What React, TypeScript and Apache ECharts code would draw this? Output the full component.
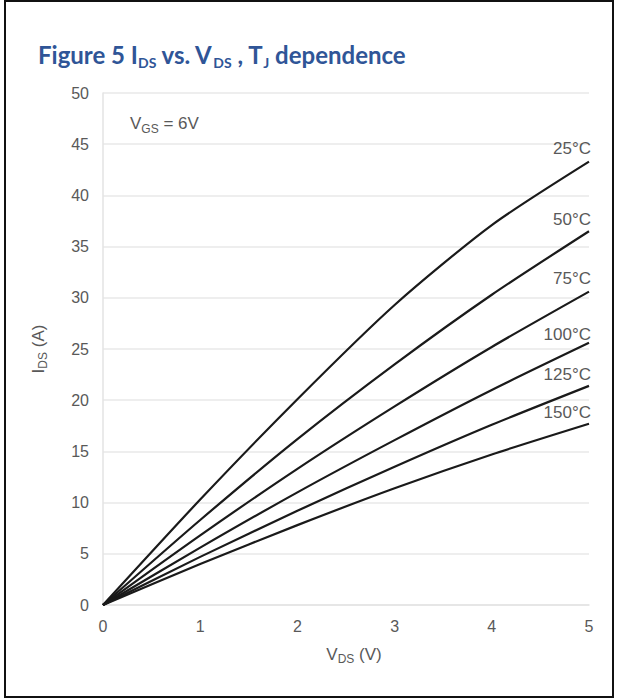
import React, { useEffect, useRef } from "react";
import * as echarts from "echarts";

const vds = [0, 1, 2, 3, 4, 5];
const i25 = [0, 10.3, 20.1, 29.3, 37.1, 43.3];
const i50 = [0, 8.3, 16.2, 23.5, 30.3, 36.5];
const i75 = [0, 6.8, 13.3, 19.4, 25.2, 30.6];
const i100 = [0, 5.6, 11.0, 16.1, 21.0, 25.6];
const i125 = [0, 4.7, 9.2, 13.5, 17.6, 21.4];
const i150 = [0, 4.0, 7.8, 11.4, 14.7, 17.7];
const curveNames = ["25°C", "50°C", "75°C", "100°C", "125°C", "150°C"];
const curves = [i25, i50, i75, i100, i125, i150];
const labelGaps = [5, 3, 5, 0, 3, 3];

const xTicks = { min: 0, max: 5, interval: 1 };
const yTicks = { min: 0, max: 50, interval: 5 };

const GRAY = "#595959";
const AXIS_FONT = "'Liberation Sans', Arial, sans-serif";
const TITLE_FONT = "Lato, 'Open Sans', sans-serif";
const BLUE = "#2F5597";

export default function App() {
  const ref = useRef<HTMLDivElement>(null);
  useEffect(() => {
    if (!ref.current) return;
    const chart = echarts.init(ref.current, undefined, { renderer: "svg" });
    const series = curves.map((arr, k) => ({
      type: "line",
      name: curveNames[k],
      smooth: 0.25,
      symbol: "circle",
      symbolSize: 0,
      showSymbol: true,
      lineStyle: { color: "#1a1a1a", width: 2.2 },
      itemStyle: { color: "#1a1a1a" },
      emphasis: { disabled: true },
      data: arr.map((v, i) =>
        i === arr.length - 1
          ? {
              value: [vds[i], v],
              label: {
                show: true,
                formatter: curveNames[k],
                position: "top",
                align: "right",
                distance: labelGaps[k],
                offset: [2, 0],
                color: GRAY,
                fontFamily: AXIS_FONT,
                fontSize: 17,
              },
            }
          : [vds[i], v]
      ),
    }));
    chart.setOption({
      animation: false,
      backgroundColor: "#ffffff",
      title: {
        text: "Figure 5 I{s|DS} vs. V{s|DS} , T{s|J} dependence",
        left: 33,
        top: 34,
        textStyle: {
          fontFamily: TITLE_FONT,
          fontWeight: "bold",
          fontSize: 24,
          color: BLUE,
          rich: {
            s: {
              fontFamily: TITLE_FONT,
              fontWeight: "bold",
              fontSize: 14,
              color: BLUE,
              padding: [16, 0, 0, 0],
            },
          },
        },
      },
      grid: { left: 103, right: 28, top: 93, bottom: 93 },
      xAxis: {
        type: "value",
        ...xTicks,
        name: "V{s|DS} (V)",
        nameLocation: "middle",
        nameGap: 38,
        nameTextStyle: {
          color: GRAY,
          fontFamily: AXIS_FONT,
          fontSize: 17,
          padding: [0, 0, 0, 16],
          rich: { s: { color: GRAY, fontFamily: AXIS_FONT, fontSize: 12, padding: [10, 0, 0, 0] } },
        },
        axisLine: { show: true, lineStyle: { color: "#e3e3e3", width: 1.5 } },
        axisTick: { show: false },
        splitLine: { show: false },
        axisLabel: { color: GRAY, fontFamily: AXIS_FONT, fontSize: 16, margin: 13 },
      },
      yAxis: {
        type: "value",
        ...yTicks,
        name: "I{s|DS} (A)",
        nameLocation: "middle",
        nameGap: 54,
        nameTextStyle: {
          color: GRAY,
          fontFamily: AXIS_FONT,
          fontSize: 17,
          rich: { s: { color: GRAY, fontFamily: AXIS_FONT, fontSize: 12, padding: [10, 0, 0, 0] } },
        },
        axisLine: { show: true, lineStyle: { color: "#e3e3e3", width: 1.5 } },
        axisTick: { show: false },
        splitLine: { show: true, lineStyle: { color: "#e8e8e8", width: 1.5 } },
        axisLabel: { color: GRAY, fontFamily: AXIS_FONT, fontSize: 16, margin: 14 },
      },
      graphic: [
        {
          type: "rect",
          shape: { x: 5, y: 1, width: 608, height: 696 },
          style: { fill: "none", stroke: "#111", lineWidth: 2 },
          silent: true,
        },
        {
          type: "text",
          left: 130,
          top: 115,
          style: {
            text: "V{s|GS} = 6V",
            fill: GRAY,
            font: `17px ${AXIS_FONT}`,
            rich: { s: { fill: GRAY, fontFamily: AXIS_FONT, fontSize: 12, padding: [10, 0, 0, 0] } },
          },
        },
      ],
      series,
    });
    return () => chart.dispose();
  }, []);
  return (
    <div
      ref={ref}
      style={{ position: "fixed", left: 0, top: 0, width: 617, height: 698 }}
    />
  );
}
